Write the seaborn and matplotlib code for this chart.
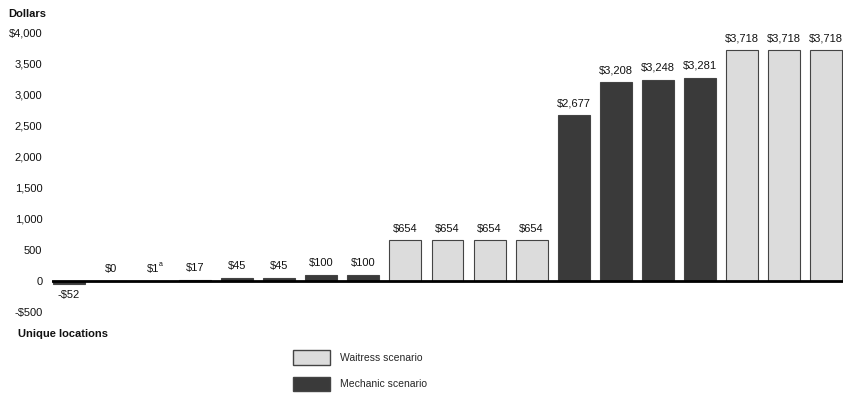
import matplotlib
matplotlib.use("Agg")
import matplotlib.pyplot as plt
import seaborn as sns
import pandas as pd
from matplotlib.patches import Patch

# Annual cost difference per unique location
values = [-52, 0, 1, 17, 45, 45, 100, 100, 654, 654, 654, 654,
          2677, 3208, 3248, 3281, 3718, 3718, 3718]
value_labels = ["-$52", "$0", "$1", "$17", "$45", "$45", "$100", "$100",
                "$654", "$654", "$654", "$654",
                "$2,677", "$3,208", "$3,248", "$3,281",
                "$3,718", "$3,718", "$3,718"]
scenarios = (["Mechanic scenario"] * 8 + ["Waitress scenario"] * 4 +
             ["Mechanic scenario"] * 4 + ["Waitress scenario"] * 3)
y_ticks = [-500, 0, 500, 1000, 1500, 2000, 2500, 3000, 3500, 4000]
y_tick_labels = ["-$500", "0", "500", "1,000", "1,500", "2,000", "2,500",
                 "3,000", "3,500", "$4,000"]

sns.set_theme(style="white")
plt.rcParams["font.family"] = ["Liberation Sans", "DejaVu Sans"]

df = pd.DataFrame({
    "loc": [str(i) for i in range(len(values))],
    "value": values,
    "scenario": scenarios,
})

palette = {"Waitress scenario": "#dcdcdc", "Mechanic scenario": "#3a3a3a"}

fig = plt.figure(figsize=(8.46, 3.96), dpi=100)
ax = fig.add_axes([52 / 846, 1 - 312 / 396, (843 - 52) / 846, (312 - 33) / 396])

sns.barplot(data=df, x="loc", y="value", hue="scenario", dodge=False,
            palette=palette, width=0.76, order=df["loc"].tolist(),
            edgecolor="#444444", linewidth=0.8, legend=False, ax=ax)

ax.set_xlim(-0.4, len(values) - 0.6)
ax.set_ylim(-500, 4000)
ax.set_yticks(y_ticks)
ax.set_yticklabels(y_tick_labels, fontsize=8)
ax.set_xticks([])
ax.set_xlabel("")
ax.set_ylabel("")
ax.tick_params(axis="y", length=0, pad=7)
for lbl in ax.get_yticklabels():
    lbl.set_color("#111111")
for s in ax.spines.values():
    s.set_visible(False)

ax.axhline(0, color="black", lw=2, zorder=5)

for i, (v, lab) in enumerate(zip(values, value_labels)):
    if v < 0:
        ax.annotate(lab, (i, v), xytext=(0, -4), textcoords="offset points",
                    ha="center", va="top", fontsize=8, color="#111111")
    else:
        ax.annotate(lab, (i, v), xytext=(0, 5), textcoords="offset points",
                    ha="center", va="bottom", fontsize=8, color="#111111")
        if lab == "$1":
            ax.annotate("a", (i, v), xytext=(4.2, 9.5), textcoords="offset points",
                        ha="left", va="bottom", fontsize=5, color="#111111")

fig.text(8 / 846, 1 - 14 / 396, "Dollars", fontsize=8, fontweight="bold",
         va="center", ha="left", color="#111111")
fig.text(18 / 846, 1 - 334 / 396, "Unique locations", fontsize=8,
         fontweight="bold", va="center", ha="left", color="#111111")

handles = [Patch(facecolor=palette["Waitress scenario"], edgecolor="#444444"),
           Patch(facecolor=palette["Mechanic scenario"], edgecolor="#444444")]
fig.legend(handles, ["Waitress scenario", "Mechanic scenario"],
           loc="upper left", bbox_to_anchor=(284 / 846, 1 - 341 / 396),
           frameon=False, fontsize=7.5, handlelength=3.5, handleheight=1.8,
           labelspacing=1.1, handletextpad=1.0)

fig.savefig("out.png", dpi=100)
